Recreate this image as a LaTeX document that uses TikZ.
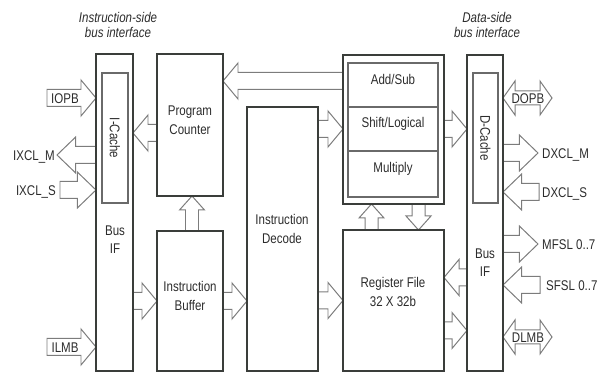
\documentclass[tikz,border=0pt]{standalone}
\usepackage{fontspec}
\setmainfont{Liberation Sans}[FakeStretch=0.82]
\usetikzlibrary{positioning,calc,fit,backgrounds}
\definecolor{boxline}{HTML}{3A3D3A}
\definecolor{partline}{HTML}{6A6A6A}
\definecolor{arrowline}{HTML}{7C7C7C}
\definecolor{textgray}{HTML}{2C2C2C}

\tikzset{
  unit/.style={draw=boxline, line width=1.7pt, inner sep=0pt, outer sep=0pt, text=textgray, font=\fontsize{12}{15.5}\selectfont, align=center},
  part/.style={draw=partline, line width=0.9pt, inner sep=0pt, outer sep=0pt, text=textgray, font=\fontsize{12}{15.5}\selectfont, align=center},
  caption/.style={text=textgray, font=\fontsize{12}{15.5}\selectfont, align=center, inner sep=0pt},
  sig/.style={text=textgray, font=\fontsize{12}{14}\selectfont, inner sep=0pt, text height=8.6pt, text depth=0pt},
  heading/.style={text=textgray, font=\fontsize{12}{13.6}\selectfont\itshape, align=center, inner sep=0pt},
  busarrow/.style={draw=arrowline, line width=0.85pt, line join=miter},
  blk shaft/.store in=\blkshaft, blk head/.store in=\blkhead, blk len/.store in=\blklen,
  blk shaft=2.55mm, blk head=5.4mm, blk len=4.5mm,
  slim/.style={blk shaft=1.95mm, blk head=3.75mm, blk len=4.2mm},
  longhead/.style={blk shaft=2.55mm, blk head=5.4mm, blk len=5.6mm},
  twoway/.style={blk shaft=2.1mm, blk head=5.1mm, blk len=3.6mm}
}

% hollow bus arrow from #2 to the tip #3
\newcommand{\blockarrow}[3][]{%
  \begin{scope}[#1]
    \coordinate (ba-s) at (#2);
    \coordinate (ba-t) at (#3);
    \coordinate (ba-h) at ($(ba-t)!\blklen!(ba-s)$);
    \draw[busarrow] ($(ba-s)!\blkshaft!90:(ba-t)$) -- ($(ba-h)!\blkshaft!90:(ba-t)$)
      -- ($(ba-h)!\blkhead!90:(ba-t)$) -- (ba-t) -- ($(ba-h)!\blkhead!-90:(ba-t)$)
      -- ($(ba-h)!\blkshaft!-90:(ba-t)$) -- ($(ba-s)!\blkshaft!-90:(ba-t)$) -- cycle;
  \end{scope}}
% same, with a head at both ends
\newcommand{\dblarrow}[3][]{%
  \begin{scope}[#1]
    \coordinate (ba-s) at (#2);
    \coordinate (ba-t) at (#3);
    \coordinate (ba-ha) at ($(ba-s)!\blklen!(ba-t)$);
    \coordinate (ba-hb) at ($(ba-t)!\blklen!(ba-s)$);
    \draw[busarrow] (ba-s) -- ($(ba-ha)!\blkhead!90:(ba-t)$) -- ($(ba-ha)!\blkshaft!90:(ba-t)$)
      -- ($(ba-hb)!\blkshaft!90:(ba-t)$) -- ($(ba-hb)!\blkhead!90:(ba-t)$) -- (ba-t)
      -- ($(ba-hb)!\blkhead!-90:(ba-t)$) -- ($(ba-hb)!\blkshaft!-90:(ba-t)$)
      -- ($(ba-ha)!\blkshaft!-90:(ba-t)$) -- ($(ba-ha)!\blkhead!-90:(ba-t)$) -- cycle;
  \end{scope}}

\begin{document}
\begin{tikzpicture}[x=0.3mm, y=-0.3mm]
\useasboundingbox (0,0) rectangle (610,372);

% headings
\node[heading] (ihead) at (118,25) {Instruction-side\\bus interface};
\node[heading] (dhead) at (487,25) {Data-side\\bus interface};

% instruction side
\node[unit, fit={(96,54) (133,371)}] (busL) {};
\node[part, fit={(102,73) (128,203)}] (icache) {};
\node[caption, rotate=-90] (icachetxt) at (icache.center) {I-Cache};
\node[caption] (busLtxt) at (115,240) {Bus\\IF};
\node[unit, fit={(157,54) (223,196)}] (pc) {Program\\Counter};
\node[unit, fit={(157,231) (223,371)}] (ibuf) {Instruction\\Buffer};
\node[unit, fit={(247,107) (318,371)}] (idec) {};
\node[caption] (idectxt) at (282,229) {Instruction\\Decode};

% execution units
\node[unit, fit={(343,55) (444,204)}] (alu) {};
\node[part, fit={(348,63) (438,107)}] (addsub) {Add/Sub};
\node[part, fit={(348,107) (438,151)}] (shift) {Shift/Logical};
\node[part, fit={(348,151) (438,197)}] (mult) {Multiply};
\node[unit, fit={(343,230) (444,371)}] (regf) {};
\node[caption] (regftxt) at (393,292) {Register File\\32 X 32b};

% data side
\node[unit, fit={(467,55) (503,371)}] (busR) {};
\node[part, fit={(473,73) (498,203)}] (dcache) {};
\node[caption, rotate=-90] (dcachetxt) at (dcache.center) {D-Cache};
\node[caption] (busRtxt) at (485,263) {Bus\\IF};

\begin{scope}[on background layer]
% instruction-side buses
\coordinate (iopb-end) at (47,98);
\coordinate (ixclm-end) at (57,155);
\coordinate (ixcls-end) at (60,190);
\coordinate (ilmb-end) at (47,347);
\blockarrow{iopb-end}{busL.west |- iopb-end}
\blockarrow[longhead]{busL.west |- ixclm-end}{ixclm-end}
\blockarrow[longhead]{ixcls-end}{busL.west |- ixcls-end}
\blockarrow{ilmb-end}{busL.west |- ilmb-end}

% internal paths
\coordinate (pc-out) at ($(pc.west)+(0,8)$);
\coordinate (alu-out) at ($(alu.north west)+(0,26)$);
\coordinate (rf-up) at ($(regf.north)+(-22,0)$);
\coordinate (alu-dn) at ($(alu.south)+(25,0)$);
\coordinate (bus-in) at ($(regf.east)+(0,-23)$);
\coordinate (rf-out) at ($(regf.east)+(0,30)$);
\blockarrow{pc-out}{busL.east |- pc-out}
\blockarrow{busL.east |- ibuf.west}{ibuf.west}
\blockarrow[slim]{ibuf.north -| 192,0}{pc.south -| 192,0}
\blockarrow{ibuf.east}{idec.west |- ibuf.east}
\blockarrow{alu-out}{pc.east |- alu-out}
\blockarrow{idec.east |- shift.west}{alu.west |- shift.west}
\blockarrow{idec.east |- regf.west}{regf.west}
\blockarrow[slim]{rf-up}{rf-up |- alu.south}
\blockarrow[slim]{alu-dn}{alu-dn |- regf.north}
\blockarrow{alu.east |- shift.east}{busR.west |- shift.east}
\blockarrow{busR.west |- bus-in}{bus-in}
\blockarrow{rf-out}{busR.west |- rf-out}

% data-side buses
\coordinate (dopb-end) at (552,98);
\coordinate (dxclm-end) at (538,153);
\coordinate (dxcls-end) at (539,192);
\coordinate (mfsl-end) at (538,244);
\coordinate (sfsl-end) at (540,285);
\coordinate (dlmb-end) at (552,337);
\dblarrow[twoway]{busR.east |- dopb-end}{dopb-end}
\blockarrow[longhead]{busR.east |- dxclm-end}{dxclm-end}
\blockarrow[longhead]{dxcls-end}{busR.east |- dxcls-end}
\blockarrow[longhead]{busR.east |- mfsl-end}{mfsl-end}
\blockarrow[longhead]{sfsl-end}{busR.east |- sfsl-end}
\dblarrow[twoway]{busR.east |- dlmb-end}{dlmb-end}
\end{scope}

% bus names
\node[sig] (iopb) at (65,98) {IOPB};
\node[sig, anchor=east] (ixclm) at (55,155) {IXCL\_M};
\node[sig, anchor=east] (ixcls) at (56,190) {IXCL\_S};
\node[sig] (ilmb) at (65,347) {ILMB};
\node[sig] (dopb) at (528,98) {DOPB};
\node[sig, anchor=west] (dxclm) at (542,153) {DXCL\_M};
\node[sig, anchor=west] (dxcls) at (542,192) {DXCL\_S};
\node[sig, anchor=west] (mfsl) at (542,244) {MFSL 0..7};
\node[sig, anchor=west] (sfsl) at (546,285) {SFSL 0..7};
\node[sig] (dlmb) at (528,337) {DLMB};
\end{tikzpicture}
\end{document}
